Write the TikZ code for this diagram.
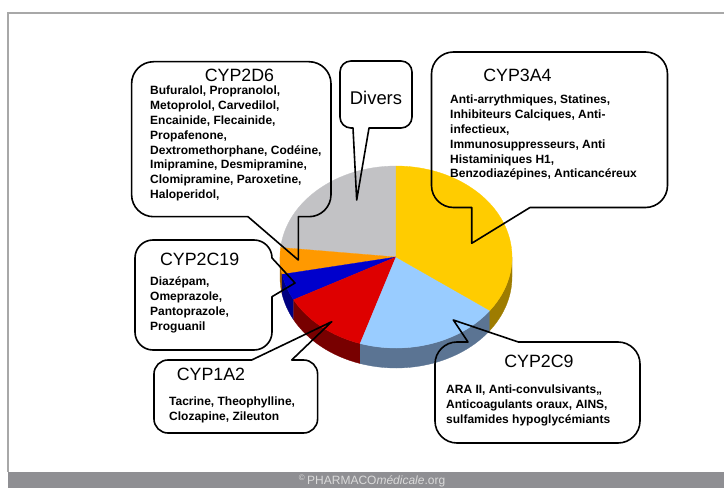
\documentclass[tikz,border=0pt]{standalone}
\usepackage{fontspec}
\setmainfont{Liberation Sans}
\usetikzlibrary{positioning}
\definecolor{pgray}{HTML}{C2C2C5}
\definecolor{porange}{HTML}{FF9900}
\definecolor{sorange}{HTML}{A05C00}
\definecolor{pblue}{HTML}{0000CC}
\definecolor{sblue}{HTML}{000080}
\definecolor{pred}{HTML}{DE0000}
\definecolor{sred}{HTML}{780000}
\definecolor{psky}{HTML}{99CCFF}
\definecolor{ssky}{HTML}{5B7493}
\definecolor{pyellow}{HTML}{FFCC00}
\definecolor{syellow}{HTML}{9E7C00}
\definecolor{band}{HTML}{8F8F93}
\definecolor{frame}{HTML}{A8A8A8}
\definecolor{footer}{HTML}{DADADA}
\tikzset{
	callout/.style={draw=black, line width=1.6pt, line join=round},
	title/.style={inner sep=0pt, font=\fontsize{17.8}{21}\selectfont},
	drugs/.style={inner sep=0pt, anchor=north west, align=left, font=\bfseries\fontsize{12}{14.8}\selectfont},
	wedge/.style={fill=#1, draw=#1, line width=0.3pt},
	pie/.style={x radius=116, y radius=91}
}

\begin{document}
\begin{tikzpicture}[x=1pt, y=1pt]
	\useasboundingbox (0,0) rectangle (724,488);
	\fill[band] (8,0) rectangle (724,16.3);
	\draw[frame, line width=1.5pt] (724,475) -- (8,475) -- (8,16.3);
	\node[anchor=base, inner sep=0pt, text=footer, font=\fontsize{12}{14}\selectfont] (footer) at (372,3.2) {\textsuperscript{\copyright}\,PHARMACO\textit{médicale}.org};
	\def\dep{20}
	\coordinate (O) at (396,231);
	\filldraw[wedge=sorange] (O) ++(180:116 and 91) arc[pie, start angle=180, end angle=191] -- ++(0,-\dep) arc[pie, start angle=191, end angle=180] -- cycle;
	\filldraw[wedge=sblue] (O) ++(191:116 and 91) arc[pie, start angle=191, end angle=208] -- ++(0,-\dep) arc[pie, start angle=208, end angle=191] -- cycle;
	\filldraw[wedge=sred] (O) ++(208:116 and 91) arc[pie, start angle=208, end angle=252] -- ++(0,-\dep) arc[pie, start angle=252, end angle=208] -- cycle;
	\filldraw[wedge=ssky] (O) ++(252:116 and 91) arc[pie, start angle=252, end angle=324] -- ++(0,-\dep) arc[pie, start angle=324, end angle=252] -- cycle;
	\filldraw[wedge=syellow] (O) ++(324:116 and 91) arc[pie, start angle=324, end angle=360] -- ++(0,-\dep) arc[pie, start angle=360, end angle=324] -- cycle;
	\filldraw[wedge=pgray] (O) -- +(90:116 and 91) arc[pie, start angle=90, end angle=174] -- cycle;
	\filldraw[wedge=porange] (O) -- +(174:116 and 91) arc[pie, start angle=174, end angle=191] -- cycle;
	\filldraw[wedge=pblue] (O) -- +(191:116 and 91) arc[pie, start angle=191, end angle=208] -- cycle;
	\filldraw[wedge=pred] (O) -- +(208:116 and 91) arc[pie, start angle=208, end angle=252] -- cycle;
	\filldraw[wedge=psky] (O) -- +(252:116 and 91) arc[pie, start angle=252, end angle=324] -- cycle;
	\filldraw[wedge=pyellow] (O) -- +(324:116 and 91) arc[pie, start angle=324, end angle=450] -- cycle;
	\coordinate (p2d6) at (298.3,228);
	\coordinate (pdiv) at (356.7,288);
	\coordinate (p3a4) at (471.7,244.7);
	\coordinate (p2c19) at (295,205);
	\coordinate (p1a2) at (331.7,166.3);
	\coordinate (p2c9) at (453.3,168);
	\draw[callout] (153.6,426.3) -- (309,426.3) arc[start angle=90, end angle=0, radius=22] -- (331,293.3) arc[start angle=0, end angle=-90, radius=22] -- (298.3,271.3) -- (p2d6) -- (248,271.3) -- (153.6,271.3) arc[start angle=270, end angle=180, radius=22] -- (131.6,404.3) arc[start angle=180, end angle=90, radius=22] -- cycle;
	\draw[callout] (351,427) -- (401,427) arc[start angle=90, end angle=0, radius=11] -- (412,371) arc[start angle=0, end angle=-90, radius=11] -- (369,360) -- (pdiv) -- (353,360) -- (351,360) arc[start angle=270, end angle=180, radius=11] -- (340,416) arc[start angle=180, end angle=90, radius=11] -- cycle;
	\draw[callout] (453.5,436) -- (645.5,436) arc[start angle=90, end angle=0, radius=22] -- (667.5,302.5) arc[start angle=0, end angle=-90, radius=22] -- (530,280.5) -- (p3a4) -- (471.7,280.5) -- (453.5,280.5) arc[start angle=270, end angle=180, radius=22] -- (431.5,414) arc[start angle=180, end angle=90, radius=22] -- cycle;
	\draw[callout] (153,248) -- (254,248) arc[start angle=90, end angle=0, radius=18] -- (p2c19) -- (272,191.3) -- (272,156) arc[start angle=0, end angle=-90, radius=18] -- (153,138) arc[start angle=270, end angle=180, radius=18] -- (135,230) arc[start angle=180, end angle=90, radius=18] -- cycle;
	\draw[callout] (168,128) -- (251.7,128) -- (p1a2) -- (291.7,128) -- (303.6,128) arc[start angle=90, end angle=0, radius=14] -- (317.6,69) arc[start angle=0, end angle=-90, radius=14] -- (168,55) arc[start angle=270, end angle=180, radius=14] -- (154,114) arc[start angle=180, end angle=90, radius=14] -- cycle;
	\draw[callout] (457,146) -- (468,146) -- (p2c9) -- (518.3,146) -- (618,146) arc[start angle=90, end angle=0, radius=22] -- (640,67) arc[start angle=0, end angle=-90, radius=22] -- (457,45) arc[start angle=270, end angle=180, radius=22] -- (435,124) arc[start angle=180, end angle=90, radius=22] -- cycle;
	\node[title] (t2d6) at (239.5,413) {CYP2D6};
	\node[title, font=\fontsize{18.4}{21}\selectfont] (tdiv) at (376,390) {Divers};
	\node[title] (t3a4) at (517.5,412.5) {CYP3A4};
	\node[title] (t2c19) at (199.7,229) {CYP2C19};
	\node[title] (t1a2) at (211,114) {CYP1A2};
	\node[title] (t2c9) at (539,127) {CYP2C9};
	\node[drugs] (d2d6) at (150,402) {Bufuralol, Propranolol,\\Metoprolol, Carvedilol,\\Encainide, Flecainide,\\Propafenone,\\Dextromethorphane, Codéine,\\Imipramine, Desmipramine,\\Clomipramine, Paroxetine,\\Haloperidol,};
	\node[drugs] (d3a4) at (450,393) {Anti-arrythmiques, Statines,\\Inhibiteurs Calciques, Anti-\\infectieux,\\Immunosuppresseurs, Anti\\Histaminiques H1,\\Benzodiazépines, Anticancéreux};
	\node[drugs] (d2c19) at (150,211.3) {Diazépam,\\Omeprazole,\\Pantoprazole,\\Proguanil};
	\node[drugs] (d1a2) at (169,91.3) {Tacrine, Theophylline,\\Clozapine, Zileuton};
	\node[drugs] (d2c9) at (446,103) {ARA II, Anti-convulsivants,,\\Anticoagulants oraux, AINS,\\sulfamides hypoglycémiants};
\end{tikzpicture}
\end{document}
